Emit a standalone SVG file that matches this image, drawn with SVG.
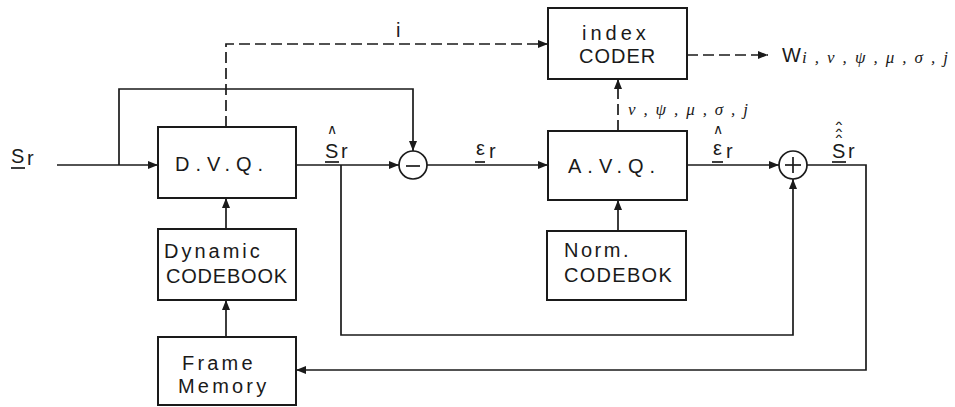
<svg xmlns="http://www.w3.org/2000/svg" width="955" height="407" viewBox="0 0 955 407">
<defs>
<style>
.box{fill:#fff;stroke:#1a1a1a;stroke-width:2}
.ln{fill:none;stroke:#1a1a1a;stroke-width:1.7}
.dash{fill:none;stroke:#1a1a1a;stroke-width:1.7;stroke-dasharray:11 5}
.t{font-family:"Liberation Sans",Arial,sans-serif;font-size:20px;fill:#1a1a1a}
.g{font-family:"Liberation Serif","Times New Roman",serif;font-style:italic;font-size:17px;fill:#1a1a1a}
.hat{font-family:"DejaVu Sans",sans-serif;font-size:14px;fill:#1a1a1a;text-anchor:middle}
.ul{stroke:#1a1a1a;stroke-width:1.7}
</style>
<marker id="ah" viewBox="0 0 10 8" refX="10" refY="4" markerWidth="10" markerHeight="8" markerUnits="userSpaceOnUse" orient="auto">
<path d="M0,0 L10,4 L0,8 Z" fill="#1a1a1a"/>
</marker>
</defs>
<rect width="955" height="407" fill="#fff"/>

<g id="connectors">
<line class="ln" x1="57" y1="165" x2="158" y2="165" marker-end="url(#ah)"/>
<polyline class="ln" points="119,165 119,89 413,89 413,151" marker-end="url(#ah)"/>
<line class="ln" x1="296" y1="165" x2="399" y2="165" marker-end="url(#ah)"/>
<line class="ln" x1="427" y1="165" x2="548" y2="165" marker-end="url(#ah)"/>
<line class="ln" x1="687" y1="165" x2="779" y2="165" marker-end="url(#ah)"/>
<polyline class="ln" points="341,165 341,335 793,335 793,179" marker-end="url(#ah)"/>
<polyline class="ln" points="807,165 866,165 866,370 296,370" marker-end="url(#ah)"/>
<line class="ln" x1="226" y1="229" x2="226" y2="198" marker-end="url(#ah)"/>
<line class="ln" x1="226" y1="337" x2="226" y2="300" marker-end="url(#ah)"/>
<line class="ln" x1="618" y1="231" x2="618" y2="200" marker-end="url(#ah)"/>
<polyline class="dash" points="226,127 226,44 548,44" marker-end="url(#ah)"/>
<line class="dash" x1="618" y1="131" x2="618" y2="79" marker-end="url(#ah)"/>
<line class="dash" x1="687" y1="55" x2="768" y2="55" marker-end="url(#ah)"/>
</g>

<g id="dvq">
<rect class="box" x="158" y="127" width="138" height="71"/>
<text class="t" x="175" y="171" letter-spacing="6">D.V.Q.</text>
</g>
<g id="dynamic-codebook">
<rect class="box" x="158" y="229" width="138" height="71"/>
<text class="t" x="164" y="258" letter-spacing="3">Dynamic</text>
<text class="t" x="166" y="283" letter-spacing="0.8">CODEBOOK</text>
</g>
<g id="frame-memory">
<rect class="box" x="158" y="337" width="138" height="68"/>
<text class="t" x="182" y="370" letter-spacing="3.2">Frame</text>
<text class="t" x="178" y="393" letter-spacing="3.2">Memory</text>
</g>
<g id="index-coder">
<rect class="box" x="548" y="8" width="139" height="71"/>
<text class="t" x="582" y="40" letter-spacing="4">index</text>
<text class="t" x="579" y="63" letter-spacing="1">CODER</text>
</g>
<g id="avq">
<rect class="box" x="548" y="131" width="139" height="69"/>
<text class="t" x="568" y="173" letter-spacing="6">A.V.Q.</text>
</g>
<g id="norm-codebook">
<rect class="box" x="547" y="231" width="139" height="69"/>
<text class="t" x="564" y="257" letter-spacing="2.5">Norm.</text>
<text class="t" x="564" y="282" letter-spacing="1.3">CODEBOK</text>
</g>
<g id="subtract">
<circle class="ln" cx="413" cy="165" r="14"/>
<line class="ul" x1="406" y1="166" x2="420" y2="166"/>
</g>
<g id="add">
<circle class="ln" cx="793" cy="165" r="14"/>
<line class="ul" x1="785" y1="165" x2="801" y2="165"/>
<line class="ul" x1="793" y1="157" x2="793" y2="173"/>
</g>

<g id="labels">
<text class="t" x="11" y="163" font-size="22">S</text>
<text class="t" x="27" y="165" font-size="18">r</text>
<line class="ul" x1="11" y1="168" x2="25" y2="168"/>

<text class="t" x="325" y="158" font-size="22">S</text>
<text class="t" x="341" y="158" font-size="18">r</text>
<line class="ul" x1="325" y1="162" x2="339" y2="162"/>
<text class="hat" x="332" y="134">∧</text>

<text class="t" x="476" y="155" font-size="12">ε</text>
<text class="t" x="489" y="158" font-size="18">r</text>
<line class="ul" x1="475" y1="162" x2="485" y2="162"/>

<text class="t" x="713" y="155" font-size="12">ε</text>
<text class="t" x="726" y="158" font-size="18">r</text>
<line class="ul" x1="712" y1="162" x2="723" y2="162"/>
<text class="hat" x="718" y="134">∧</text>

<text class="t" x="832" y="158" font-size="22">S</text>
<text class="t" x="848" y="158" font-size="18">r</text>
<line class="ul" x1="832" y1="162" x2="846" y2="162"/>
<text class="hat" font-size="14" transform="translate(839,125) scale(1,0.4)">∧</text>
<text class="hat" font-size="14" transform="translate(839,131.5) scale(1,0.4)">∧</text>
<text class="hat" font-size="14" transform="translate(839,138) scale(1,0.4)">∧</text>

<text class="t" x="396" y="37" font-size="16">i</text>
<text class="g" x="628" y="115" textLength="120" lengthAdjust="spacing">ν , ψ , μ , σ , j</text>
<text class="t" x="782" y="62" font-size="19">W</text>
<text class="g" x="802" y="63" textLength="146" lengthAdjust="spacing">i , ν , ψ , μ , σ , j</text>
</g>
</svg>
